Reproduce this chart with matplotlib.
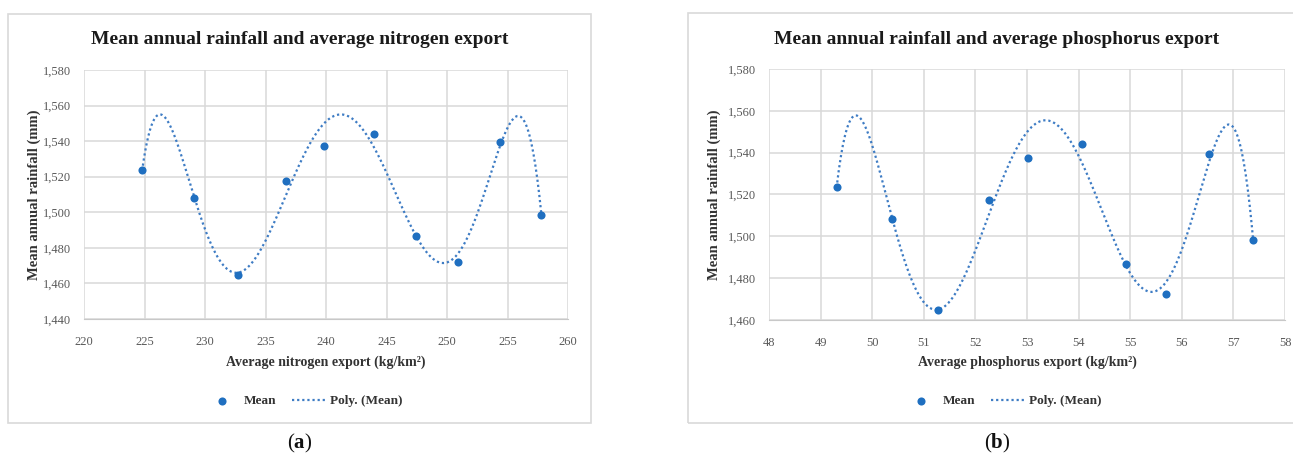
import numpy as np
import matplotlib
matplotlib.use("Agg")
from matplotlib import pyplot as plt
from matplotlib.patches import Rectangle
from numpy.polynomial import Polynomial

# data
rain = [1523.5, 1508.3, 1465.0, 1517.6, 1537.4, 1544.2, 1486.6, 1472.2, 1539.4, 1498.2]
nitrogen = [224.8, 229.1, 232.7, 236.7, 239.8, 244.0, 247.45, 250.9, 254.35, 257.8]
phosphorus = [49.31, 50.38, 51.28, 52.26, 53.02, 54.07, 54.91, 55.70, 56.53, 57.38]

n_ticks = [220, 225, 230, 235, 240, 245, 250, 255, 260]
p_ticks = [48, 49, 50, 51, 52, 53, 54, 55, 56, 57, 58]
ya_ticks = [1440, 1460, 1480, 1500, 1520, 1540, 1560, 1580]
yb_ticks = [1460, 1480, 1500, 1520, 1540, 1560, 1580]

W, H = 1293, 457
SERIF = ["Liberation Serif", "DejaVu Serif"]
plt.rcParams["font.family"] = SERIF
plt.rcParams["mathtext.fontset"] = "custom"
plt.rcParams["mathtext.rm"] = "Liberation Serif"
plt.rcParams["mathtext.bf"] = "Liberation Serif:bold"

DOT = "#1f6fc0"
LINE = "#3e7cc4"
GRID = "#d9d9d9"
TXT = "#595959"

fig = plt.figure(figsize=(W / 100, H / 100), dpi=100)


def px(x0, y0, x1, y1):
    # pixel box -> figure fraction rect
    return [x0 / W, 1 - y1 / H, (x1 - x0) / W, (y1 - y0) / H]


def panel(box, ax_box, xs, ticks, yticks, title, xlabel, tag, leg_x, ylab_x):
    bx0, by0, bx1, by1 = box
    fig.patches.append(Rectangle((bx0 / W, 1 - by1 / H), (bx1 - bx0) / W, (by1 - by0) / H,
                                 transform=fig.transFigure, fill=False,
                                 edgecolor=GRID, linewidth=1.2))
    ax = fig.add_axes(px(*ax_box))
    ax.scatter(xs, rain, s=34, color=DOT, zorder=3, label="Mean", linewidths=0)
    fit = Polynomial.fit(xs, rain, 6)
    xx = np.linspace(min(xs), max(xs), 400)
    ax.plot(xx, fit(xx), linestyle=(0, (1, 1.3)), color=LINE, linewidth=1.6,
            label="Poly. (Mean)", zorder=2)
    ax.set_xlim(ticks[0], ticks[-1])
    ax.set_ylim(yticks[0], yticks[-1])
    ax.set_xticks(ticks)
    ax.set_yticks(yticks)
    ax.set_yticklabels([f"{v:,}" for v in yticks])
    ax.grid(True, color=GRID, linewidth=1.1)
    ax.set_axisbelow(True)
    for s in ["top", "right", "left"]:
        ax.spines[s].set_visible(False)
    ax.spines["bottom"].set_color("#c8c8c8")
    ax.tick_params(length=0, labelsize=9, labelcolor=TXT)
    ax.tick_params(axis="x", pad=12)
    ax.tick_params(axis="y", pad=9)
    cx = (bx0 + min(bx1, W + 13)) / 2
    fig.text(cx / W, 1 - 40 / H, title, ha="center", va="center",
             fontsize=14, fontweight="bold", color="#1a1a1a")
    axc = (ax_box[0] + ax_box[2]) / 2
    fig.text(axc / W, 1 - 362 / H, xlabel, ha="center", va="center",
             fontsize=10, fontweight="bold", color="#333333")
    fig.text(ylab_x / W, 1 - 195 / H, "Mean annual rainfall (mm)",
             rotation=90, ha="center", va="center", fontsize=10.5,
             fontweight="bold", color="#333333")
    leg = fig.legend(*ax.get_legend_handles_labels(), loc="center",
                     bbox_to_anchor=(leg_x / W, 1 - 401 / H), ncol=2, frameon=False,
                     prop={"family": SERIF, "weight": "bold", "size": 9.5},
                     handlelength=2.6, columnspacing=1.2, handletextpad=0.3,
                     scatterpoints=1)
    for t in leg.get_texts():
        t.set_color("#333333")
    fig.text(cx / W, 1 - 443 / H, r"($\mathbf{" + tag + "}$)", ha="center",
             va="center", fontsize=15, color="#111111")
    return ax


panel((8, 14, 591, 423), (84, 70, 568, 319), nitrogen, n_ticks, ya_ticks,
      "Mean annual rainfall and average nitrogen export",
      "Average nitrogen export (kg/km²)", "a", 304, 34)
panel((688, 13, 1310, 423), (769, 69, 1285, 320), phosphorus, p_ticks, yb_ticks,
      "Mean annual rainfall and average phosphorus export",
      "Average phosphorus export (kg/km²)", "b", 1003, 714)

fig.savefig("out.png", dpi=100, facecolor="white")
